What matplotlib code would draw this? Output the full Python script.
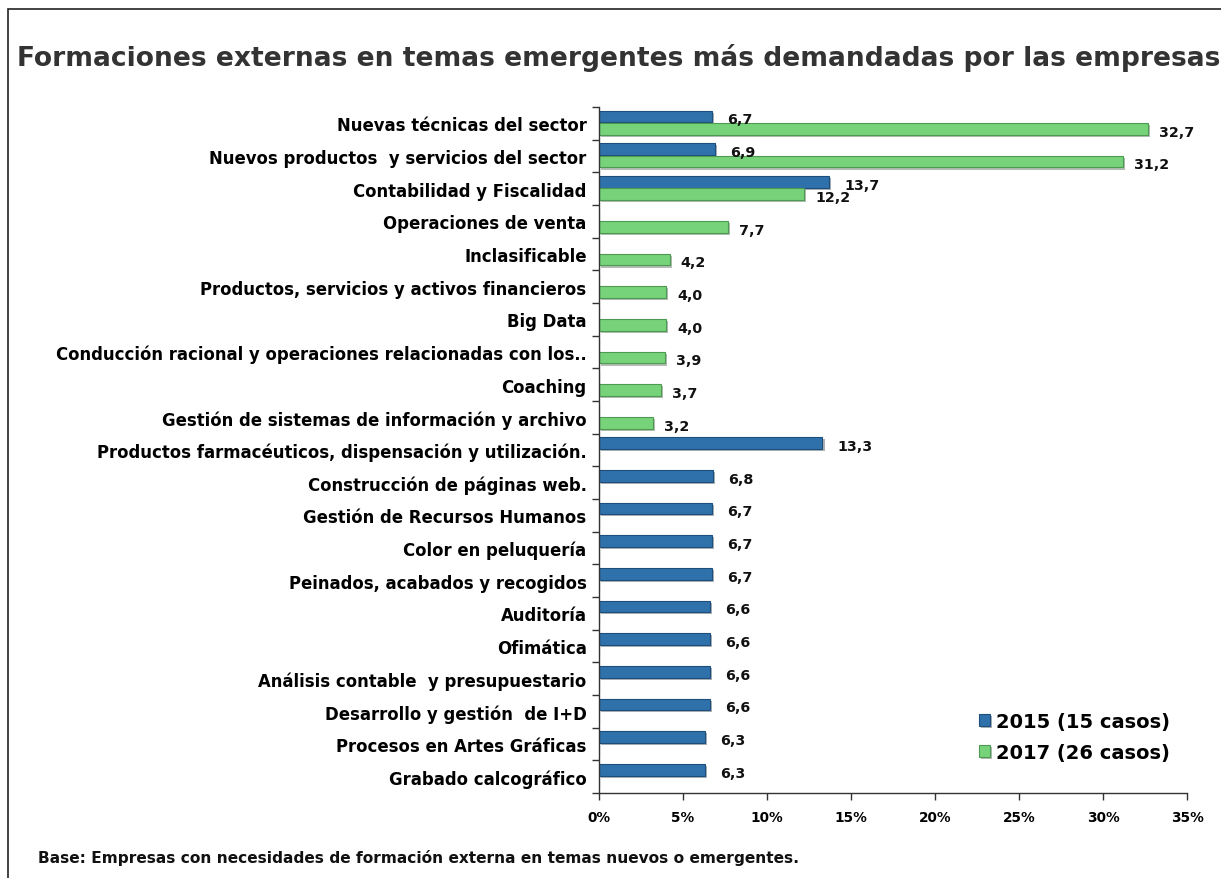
import matplotlib
matplotlib.use("Agg")
import matplotlib.pyplot as plt
import matplotlib.patheffects as pe
from matplotlib.patches import Rectangle
import numpy as np

categories = [
    "Nuevas técnicas del sector",
    "Nuevos productos  y servicios del sector",
    "Contabilidad y Fiscalidad",
    "Operaciones de venta",
    "Inclasificable",
    "Productos, servicios y activos financieros",
    "Big Data",
    "Conducción racional y operaciones relacionadas con los..",
    "Coaching",
    "Gestión de sistemas de información y archivo",
    "Productos farmacéuticos, dispensación y utilización.",
    "Construcción de páginas web.",
    "Gestión de Recursos Humanos",
    "Color en peluquería",
    "Peinados, acabados y recogidos",
    "Auditoría",
    "Ofimática",
    "Análisis contable  y presupuestario",
    "Desarrollo y gestión  de I+D",
    "Procesos en Artes Gráficas",
    "Grabado calcográfico",
]
values_2015 = [6.7, 6.9, 13.7, 0, 0, 0, 0, 0, 0, 0, 13.3, 6.8, 6.7, 6.7, 6.7, 6.6, 6.6, 6.6, 6.6, 6.3, 6.3]
values_2017 = [32.7, 31.2, 12.2, 7.7, 4.2, 4.0, 4.0, 3.9, 3.7, 3.2, 0, 0, 0, 0, 0, 0, 0, 0, 0, 0, 0]
series_labels = ["2015 (15 casos)", "2017 (26 casos)"]
xticks = [0, 5, 10, 15, 20, 25, 30, 35]
title = "Formaciones externas en temas emergentes más demandadas por las empresas"
footnote = "Base: Empresas con necesidades de formación externa en temas nuevos o emergentes."

W, H = 1221, 879
fig = plt.figure(figsize=(W / 100, H / 100), dpi=100)
plt.rcParams['font.family'] = ['DejaVu Sans']

# frame
fig.add_artist(Rectangle((8 / W, -0.05), 1.2, (H - 10) / H + 0.05, transform=fig.transFigure,
                         fill=False, edgecolor='#222222', linewidth=1.2))

ax = fig.add_axes([599 / W, (H - 794) / H, (1187 - 599) / W, (794 - 108) / H])

n = len(categories)
y = np.arange(n)
h = 0.36
blue = '#2F71AB'
green = '#77D37A'
shadow = [pe.SimplePatchShadow(offset=(1.5, -1.5), alpha=0.35), pe.Normal()]

b1 = ax.barh(y - 0.21, values_2015, height=h, color=blue, edgecolor='#1E4F7C', linewidth=0.8,
             label=series_labels[0])
b2 = ax.barh(y + 0.17, values_2017, height=h, color=green, edgecolor='#4E9A52', linewidth=0.8,
             label=series_labels[1])
for p in list(b1) + list(b2):
    p.set_path_effects(shadow)

for yy, v in zip(y - 0.21, values_2015):
    if v > 0:
        ax.annotate(f"{v:.1f}".replace('.', ','), (v, yy), xytext=(11, -2), textcoords='offset points',
                    ha='left', va='center', fontsize=10.3, fontweight='bold', color='#111111')
for yy, v in zip(y + 0.17, values_2017):
    if v > 0:
        ax.annotate(f"{v:.1f}".replace('.', ','), (v, yy), xytext=(8, -2), textcoords='offset points',
                    ha='left', va='center', fontsize=10.3, fontweight='bold', color='#111111')

ax.set_ylim(n - 0.5, -0.5)
ax.set_xlim(0, 35)
ax.set_xticks(xticks)
ax.set_xticklabels([f"{t}%" for t in xticks], fontsize=9.8, fontweight='bold')
ax.set_yticks(y)
ax.set_yticklabels(categories, fontsize=11, fontweight='bold')
ax.set_yticks(np.arange(n + 1) - 0.5, minor=True)
ax.tick_params(axis='y', which='major', length=0, pad=9)
ax.tick_params(axis='y', which='minor', length=5, width=1, color='#333333')
ax.tick_params(axis='x', length=5, width=1, color='#333333', pad=7)
for s in ['top', 'right']:
    ax.spines[s].set_visible(False)
for s in ['left', 'bottom']:
    ax.spines[s].set_color('#333333')
    ax.spines[s].set_linewidth(1)

leg = ax.legend(loc='lower right', bbox_to_anchor=(1.0, 0.02), frameon=False,
                prop={'size': 14, 'weight': 'bold'}, handlelength=0.55, handleheight=0.55,
                handletextpad=0.3, labelspacing=0.6)

ttl = fig.text(17 / W, 1 - 58 / H, title, fontsize=17.5, fontweight='bold', color='#333333',
               ha='left', va='center')
fn = fig.text(38 / W, 1 - 858 / H, footnote, fontsize=9.5, fontweight='bold', color='#111111',
              ha='left', va='center')

# fit title, footnote and longest label width to reference
fig.canvas.draw()
r = fig.canvas.get_renderer()
tw = ttl.get_window_extent(r).width
ttl.set_fontsize(17.5 * 1193 / tw)
fw = fn.get_window_extent(r).width
fn.set_fontsize(9.5 * 768 / fw)
labs = ax.get_yticklabels()
lw = max(l.get_window_extent(r).width for l in labs)
fs = 11 * 528 / lw
for l in labs:
    l.set_fontsize(fs)

fig.savefig("out.png", dpi=100)
